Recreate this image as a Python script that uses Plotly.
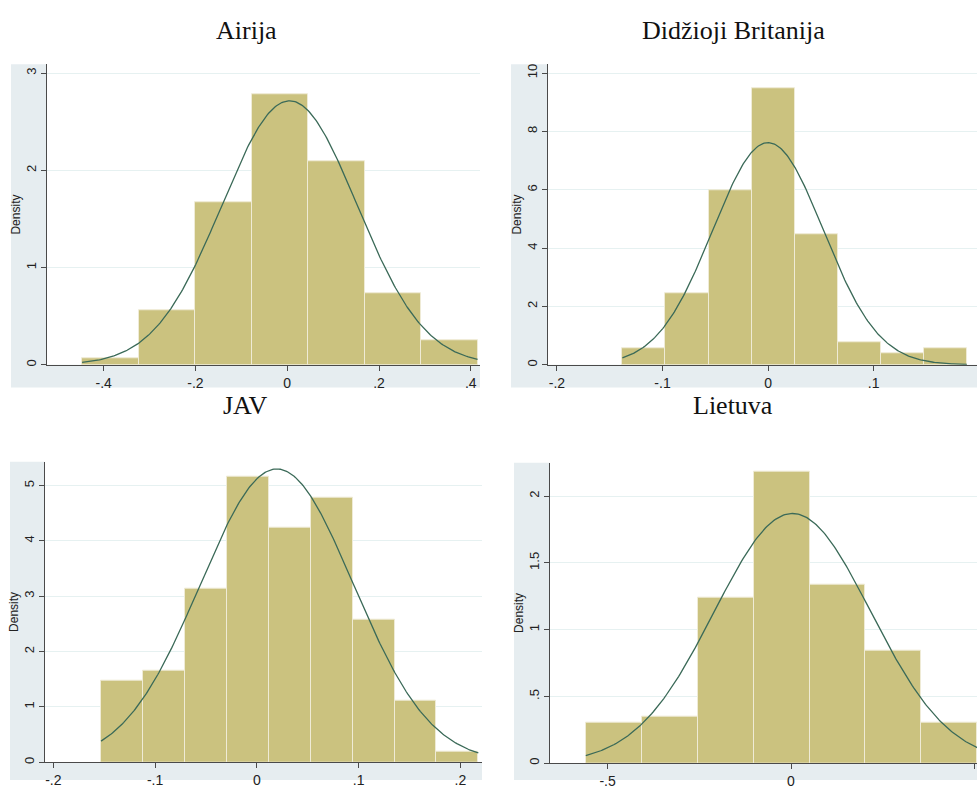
import numpy as np
import plotly.graph_objects as go

# ---------------- data ----------------
titles = ["Airija", "Didžioji Britanija", "JAV", "Lietuva"]

# histogram bins: first edge, bin width, densities
airija_start, airija_width = -0.447, 0.1231
airija_density = [0.07, 0.56, 1.67, 2.78, 2.09, 0.74, 0.25]

db_start, db_width = -0.138, 0.0408
db_density = [0.56, 2.44, 5.98, 9.48, 4.47, 0.77, 0.40, 0.56]

jav_start, jav_width = -0.1531, 0.0412
jav_density = [1.48, 1.66, 3.13, 5.16, 4.23, 4.78, 2.58, 1.11, 0.19]

lt_start, lt_width = -0.5595, 0.1525
lt_density = [0.30, 0.35, 1.24, 2.18, 1.34, 0.84, 0.30, 0.30]

# fitted normal overlay parameters (mean, sd)
airija_norm = (0.005, 0.147)
db_norm = (0.0, 0.0524)
jav_norm = (0.0197, 0.0753)
lt_norm = (0.004, 0.2134)

# axis ticks
airija_xticks = [-0.4, -0.2, 0, 0.2, 0.4]
airija_xlabels = ["-.4", "-.2", "0", ".2", ".4"]
airija_yticks = [0, 1, 2, 3]
airija_ylabels = ["0", "1", "2", "3"]

db_xticks = [-0.2, -0.1, 0, 0.1, 0.2]
db_xlabels = ["-.2", "-.1", "0", ".1", ".2"]
db_yticks = [0, 2, 4, 6, 8, 10]
db_ylabels = ["0", "2", "4", "6", "8", "10"]

jav_xticks = [-0.2, -0.1, 0, 0.1, 0.2]
jav_xlabels = ["-.2", "-.1", "0", ".1", ".2"]
jav_yticks = [0, 1, 2, 3, 4, 5]
jav_ylabels = ["0", "1", "2", "3", "4", "5"]

lt_xticks = [-0.5, 0, 0.5]
lt_xlabels = ["-.5", "0", ".5"]
lt_yticks = [0, 0.5, 1, 1.5, 2]
lt_ylabels = ["0", ".5", "1", "1.5", "2"]

# ---------------- layout geometry (pixels) ----------------
W, H = 977, 789
BAR = "#cbc27f"
BAR_LINE = "#efebd6"
CURVE = "#3b6a58"
BG = "#e6edf0"

panels = [
    dict(start=airija_start, width=airija_width, dens=airija_density, norm=airija_norm,
         xt=airija_xticks, xl=airija_xlabels, yt=airija_yticks, yl=airija_ylabels,
         xr=[-0.5235, 0.42], yr=[0, 3.09], px=(47, 480), py=(65, 369), bg=(11, 480, 65, 392),
         title_xy=(247, 31)),
    dict(start=db_start, width=db_width, dens=db_density, norm=db_norm,
         xt=db_xticks, xl=db_xlabels, yt=db_yticks, yl=db_ylabels,
         xr=[-0.2085, 0.198], yr=[0, 10.3], px=(548, 977), py=(65, 369), bg=(511, 977, 65, 392),
         title_xy=(733, 31)),
    dict(start=jav_start, width=jav_width, dens=jav_density, norm=jav_norm,
         xt=jav_xticks, xl=jav_xlabels, yt=jav_yticks, yl=jav_ylabels,
         xr=[-0.2082, 0.2213], yr=[0, 5.43], px=(45, 482), py=(467, 771), bg=(10, 482, 467, 789),
         title_xy=(246, 410)),
    dict(start=lt_start, width=lt_width, dens=lt_density, norm=lt_norm,
         xt=lt_xticks, xl=lt_xlabels, yt=lt_yticks, yl=lt_ylabels,
         xr=[-0.657, 0.507], yr=[0, 2.25], px=(550, 977), py=(468, 772), bg=(514, 977, 468, 789),
         title_xy=(733, 410)),
]

fig = go.Figure()
shapes = []
annotations = []

for i, p in enumerate(panels):
    n = i + 1
    xa = "x" if n == 1 else f"x{n}"
    ya = "y" if n == 1 else f"y{n}"
    edges = [p["start"] + p["width"] * k for k in range(len(p["dens"]) + 1)]
    centers = [(edges[k] + edges[k + 1]) / 2 for k in range(len(p["dens"]))]
    fig.add_trace(go.Bar(
        x=centers, y=p["dens"], width=[p["width"]] * len(p["dens"]),
        marker=dict(color=BAR, line=dict(color=BAR_LINE, width=1)),
        xaxis=xa, yaxis=ya, showlegend=False, hoverinfo="skip"))
    mu, sd = p["norm"]
    xs = np.linspace(edges[0], edges[-1], 300)
    ys = np.exp(-0.5 * ((xs - mu) / sd) ** 2) / (sd * np.sqrt(2 * np.pi))
    fig.add_trace(go.Scatter(
        x=xs, y=ys, mode="lines", line=dict(color=CURVE, width=1.3),
        xaxis=xa, yaxis=ya, showlegend=False, hoverinfo="skip"))

    x0, x1 = p["px"]
    y0, y1 = p["py"]
    xdom = [x0 / W, x1 / W]
    ydom = [1 - y1 / H, 1 - y0 / H]
    xkey = "xaxis" if n == 1 else f"xaxis{n}"
    ykey = "yaxis" if n == 1 else f"yaxis{n}"
    fig.update_layout(**{
        xkey: dict(domain=xdom, range=p["xr"], anchor=ya, tickvals=p["xt"], ticktext=p["xl"],
                   showgrid=False, zeroline=False, showline=True, linecolor="#4a4a4a",
                   linewidth=1, ticks="outside", ticklen=5, tickcolor="#4a4a4a",
                   tickfont=dict(family="Liberation Sans, Arial", size=14, color="#222")),
        ykey: dict(domain=ydom, range=p["yr"], anchor=xa, tickvals=p["yt"], ticktext=p["yl"],
                   showgrid=True, gridcolor="#e6f1f1", gridwidth=1, zeroline=False,
                   showline=True, linecolor="#4a4a4a", linewidth=1, ticks="outside",
                   ticklen=5, tickcolor="#4a4a4a", tickangle=-90,
                   tickfont=dict(family="Liberation Sans, Arial", size=13, color="#222"),
                   title=dict(text="Density", standoff=0,
                              font=dict(family="Liberation Sans, Arial", size=12, color="#222"))),
    })
    # grey-blue frame around the plot area (left strip and bottom strip)
    bx0, bx1, by0, by1 = p["bg"]
    shapes.append(dict(type="rect", xref="paper", yref="paper",
                       x0=bx0 / W, x1=x0 / W, y0=1 - by1 / H, y1=1 - by0 / H,
                       fillcolor=BG, line=dict(width=0), layer="below"))
    shapes.append(dict(type="rect", xref="paper", yref="paper",
                       x0=x0 / W, x1=bx1 / W, y0=1 - by1 / H, y1=1 - y1 / H,
                       fillcolor=BG, line=dict(width=0), layer="below"))
    tx, ty = p["title_xy"]
    annotations.append(dict(text=titles[i], x=tx / W, y=1 - ty / H, xref="paper", yref="paper",
                            showarrow=False, xanchor="center", yanchor="middle", borderpad=0,
                            font=dict(family="Liberation Serif, Times New Roman", size=26,
                                      color="#111")))

fig.update_layout(
    width=W, height=H, margin=dict(l=0, r=0, t=0, b=0),
    paper_bgcolor="white", plot_bgcolor="white",
    shapes=shapes, annotations=annotations, bargap=0,
)

fig.write_html("out.html", config={"displayModeBar": False},
               post_script="document.body.style.margin='0px';document.body.style.overflow='hidden';")
